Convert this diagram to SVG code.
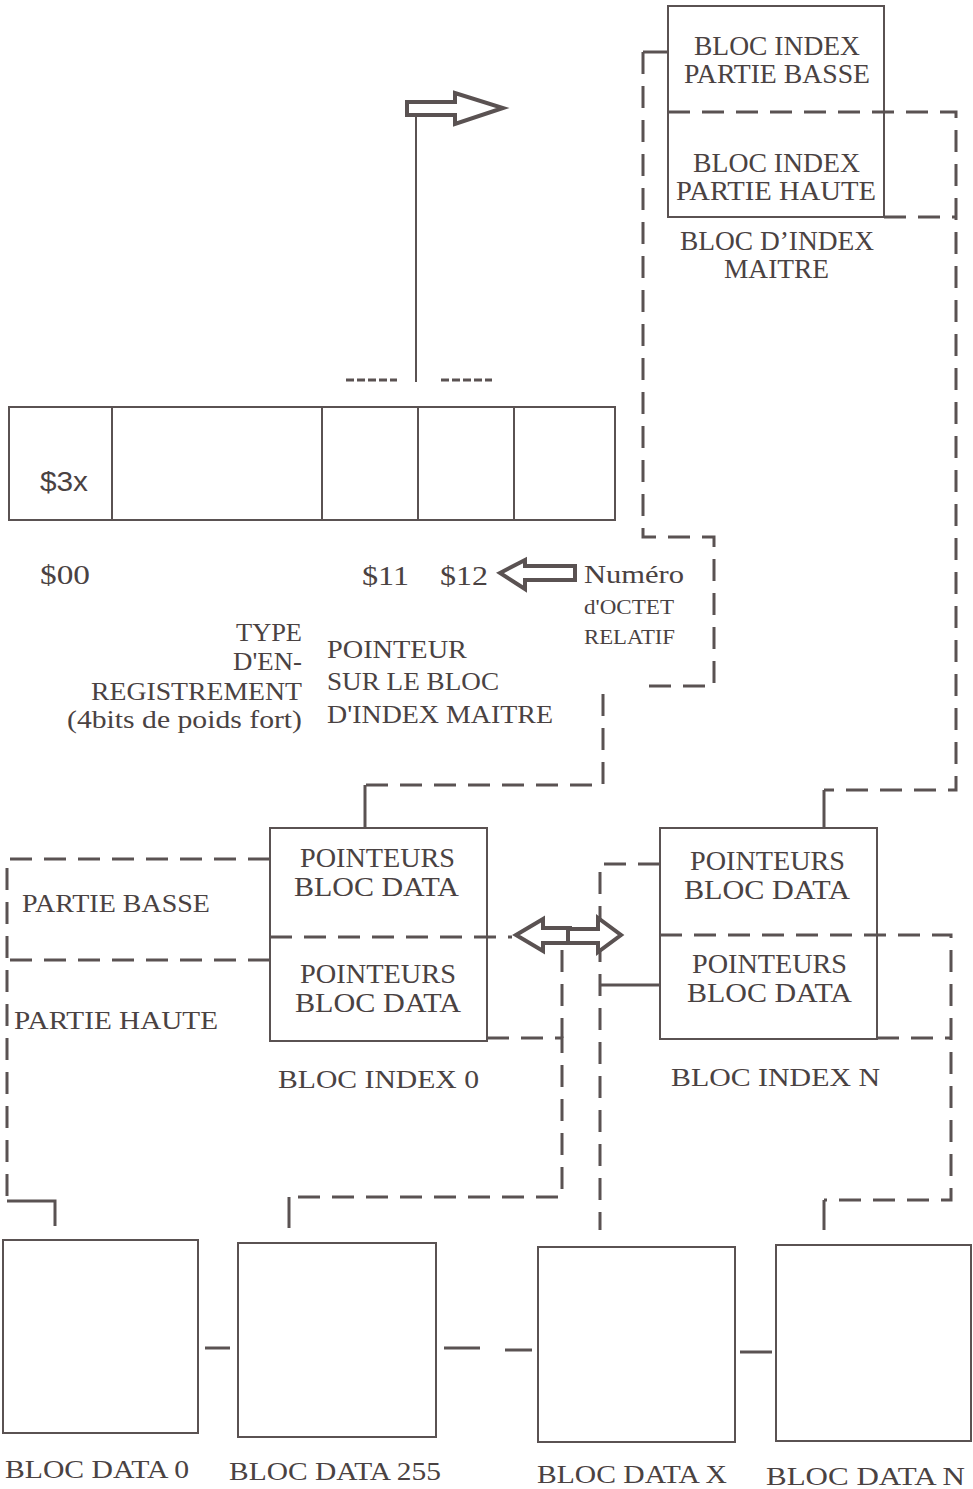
<svg xmlns="http://www.w3.org/2000/svg" width="973" height="1489" viewBox="0 0 973 1489">
<style>
.bg{fill:#ffffff}
.box{fill:#ffffff;stroke:#5a5252;stroke-width:2}
.ln{fill:none;stroke:#5a5252;stroke-width:3}
.thin{fill:none;stroke:#5a5252;stroke-width:2}
.dash{fill:none;stroke:#5a5252;stroke-width:3;stroke-dasharray:22 12}
.tiny{fill:none;stroke:#5a5252;stroke-width:3;stroke-dasharray:8 3}
.arrow{fill:#ffffff;stroke:#5a5252;stroke-width:4;stroke-linejoin:miter}
text{font-family:"Liberation Serif","DejaVu Serif",serif;font-size:28px;fill:#4a4242}
.sm{font-size:20px}
.md{font-size:26px}
.sans{font-family:"Liberation Sans",Arial,sans-serif}
.r{text-anchor:end}
</style>
<rect class="bg" x="0" y="0" width="973" height="1489"/>
<g id="connectors">
  <path class="ln" d="M668,52 H643"/>
  <path class="dash" d="M643,52 V537 H714 V686 H640"/>
  <path class="dash" d="M603,694 V785 H365"/>
  <path class="ln" d="M365,785 V828"/>
  <path class="dash" d="M668,112 H956 V790 H824"/>
  <path class="ln" d="M824,790 V828"/>
  <path class="dash" d="M884,217 H956"/>
  <path class="thin" d="M416,114 V382"/>
  <path class="tiny" d="M346,380 H397"/>
  <path class="tiny" d="M441,380 H492"/>
  <path class="dash" d="M270,859 H7 V1201"/>
  <path class="ln" d="M7,1201 H55 V1226"/>
  <path class="dash" d="M270,960 H7"/>
  <path class="dash" d="M487,1038 H562 V1197 H289"/>
  <path class="dash" d="M562,950 V1038"/>
  <path class="ln" d="M289,1197 V1228"/>
  <path class="dash" d="M660,864 H600 V1230"/>
  <path class="ln" d="M600,985 H660"/>
  <path class="dash" d="M877,1038 H951"/>
  <path class="ln" d="M824,1200 V1230"/>
  <path class="ln" d="M205,1348 H230"/>
  <path class="ln" d="M444,1348 H480"/>
  <path class="ln" d="M505,1350 H532"/>
  <path class="ln" d="M740,1352 H772"/>
</g>
<g id="master-index">
  <rect class="box" x="668" y="6" width="216" height="211"/>
  <path class="dash" d="M668,112 H884"/>
  <text x="694" y="55" textLength="166" lengthAdjust="spacingAndGlyphs">BLOC INDEX</text>
  <text x="684" y="83" textLength="186" lengthAdjust="spacingAndGlyphs">PARTIE BASSE</text>
  <text x="693" y="172" textLength="167" lengthAdjust="spacingAndGlyphs">BLOC INDEX</text>
  <text x="676" y="200" textLength="200" lengthAdjust="spacingAndGlyphs">PARTIE HAUTE</text>
  <text x="680" y="250" textLength="194" lengthAdjust="spacingAndGlyphs">BLOC D’INDEX</text>
  <text x="724" y="278" textLength="105" lengthAdjust="spacingAndGlyphs">MAITRE</text>
</g>
<g id="top-arrow">
  <polygon class="arrow" points="407,102 455,102 455,93 503,108 455,124 455,115 407,115"/>
</g>
<g id="record">
  <rect class="box" x="9" y="407" width="606" height="113"/>
  <path class="thin" d="M112,407 V520 M322,407 V520 M418,407 V520 M514,407 V520"/>
  <text class="sans" x="40" y="491" textLength="48" lengthAdjust="spacingAndGlyphs">$3x</text>
  <text x="40" y="584" textLength="50" lengthAdjust="spacingAndGlyphs">$00</text>
  <text x="362" y="585" textLength="47" lengthAdjust="spacingAndGlyphs">$11</text>
  <text x="440" y="585" textLength="48" lengthAdjust="spacingAndGlyphs">$12</text>
</g>
<g id="offset-arrow">
  <polygon class="arrow" points="500,573 525,560 525,566 575,566 575,580 525,580 525,589"/>
</g>
<g id="offset-label">
  <text class="md" x="584" y="583" textLength="100" lengthAdjust="spacingAndGlyphs">Numéro</text>
  <text class="sm" x="584" y="614" textLength="90" lengthAdjust="spacingAndGlyphs">d'OCTET</text>
  <text class="sm" x="584" y="644" textLength="91" lengthAdjust="spacingAndGlyphs">RELATIF</text>
</g>
<g id="type-label">
  <text class="md r" x="302" y="641" textLength="66" lengthAdjust="spacingAndGlyphs">TYPE</text>
  <text class="md r" x="302" y="670" textLength="69" lengthAdjust="spacingAndGlyphs">D'EN-</text>
  <text class="md r" x="302" y="700" textLength="211" lengthAdjust="spacingAndGlyphs">REGISTREMENT</text>
  <text class="md r" x="302" y="728" textLength="235" lengthAdjust="spacingAndGlyphs">(4bits de poids fort)</text>
</g>
<g id="pointer-label">
  <text class="md" x="327" y="658" textLength="140" lengthAdjust="spacingAndGlyphs">POINTEUR</text>
  <text class="md" x="327" y="690" textLength="172" lengthAdjust="spacingAndGlyphs">SUR LE BLOC</text>
  <text class="md" x="327" y="723" textLength="226" lengthAdjust="spacingAndGlyphs">D'INDEX MAITRE</text>
</g>
<g id="index-0">
  <rect class="box" x="270" y="828" width="217" height="213"/>
  <path class="dash" d="M270,937 H512"/>
  <text x="300" y="867" textLength="155" lengthAdjust="spacingAndGlyphs">POINTEURS</text>
  <text x="294" y="896" textLength="165" lengthAdjust="spacingAndGlyphs">BLOC DATA</text>
  <text x="300" y="983" textLength="156" lengthAdjust="spacingAndGlyphs">POINTEURS</text>
  <text x="295" y="1012" textLength="166" lengthAdjust="spacingAndGlyphs">BLOC DATA</text>
  <text class="md" x="278" y="1088" textLength="201" lengthAdjust="spacingAndGlyphs">BLOC INDEX  0</text>
  <text class="md" x="22" y="912" textLength="188" lengthAdjust="spacingAndGlyphs">PARTIE BASSE</text>
  <text class="md" x="14" y="1029" textLength="204" lengthAdjust="spacingAndGlyphs">PARTIE HAUTE</text>
</g>
<g id="index-n">
  <rect class="box" x="660" y="828" width="217" height="211"/>
  <path class="dash" d="M660,935 H951 V1200 H824"/>
  <text x="690" y="870" textLength="155" lengthAdjust="spacingAndGlyphs">POINTEURS</text>
  <text x="684" y="899" textLength="166" lengthAdjust="spacingAndGlyphs">BLOC DATA</text>
  <text x="692" y="973" textLength="155" lengthAdjust="spacingAndGlyphs">POINTEURS</text>
  <text x="687" y="1002" textLength="165" lengthAdjust="spacingAndGlyphs">BLOC DATA</text>
  <text class="md" x="671" y="1086" textLength="209" lengthAdjust="spacingAndGlyphs">BLOC INDEX  N</text>
</g>
<g id="double-arrow">
  <polygon class="arrow" points="516,935 543,919 543,928 570,928 570,943 543,943 543,951"/>
  <polygon class="arrow" points="568,929 598,929 598,918 621,935 598,952 598,943 568,943"/>
</g>
<g id="data-0">
  <rect class="box" x="3" y="1240" width="195" height="193"/>
  <text class="md" x="5" y="1478" textLength="184" lengthAdjust="spacingAndGlyphs">BLOC DATA 0</text>
</g>
<g id="data-255">
  <rect class="box" x="238" y="1243" width="198" height="194"/>
  <text class="md" x="229" y="1480" textLength="212" lengthAdjust="spacingAndGlyphs">BLOC DATA 255</text>
</g>
<g id="data-x">
  <rect class="box" x="538" y="1247" width="197" height="195"/>
  <text class="md" x="537" y="1483" textLength="190" lengthAdjust="spacingAndGlyphs">BLOC DATA X</text>
</g>
<g id="data-n">
  <rect class="box" x="776" y="1245" width="195" height="196"/>
  <text class="md" x="766" y="1485" textLength="199" lengthAdjust="spacingAndGlyphs">BLOC DATA N</text>
</g>
</svg>
